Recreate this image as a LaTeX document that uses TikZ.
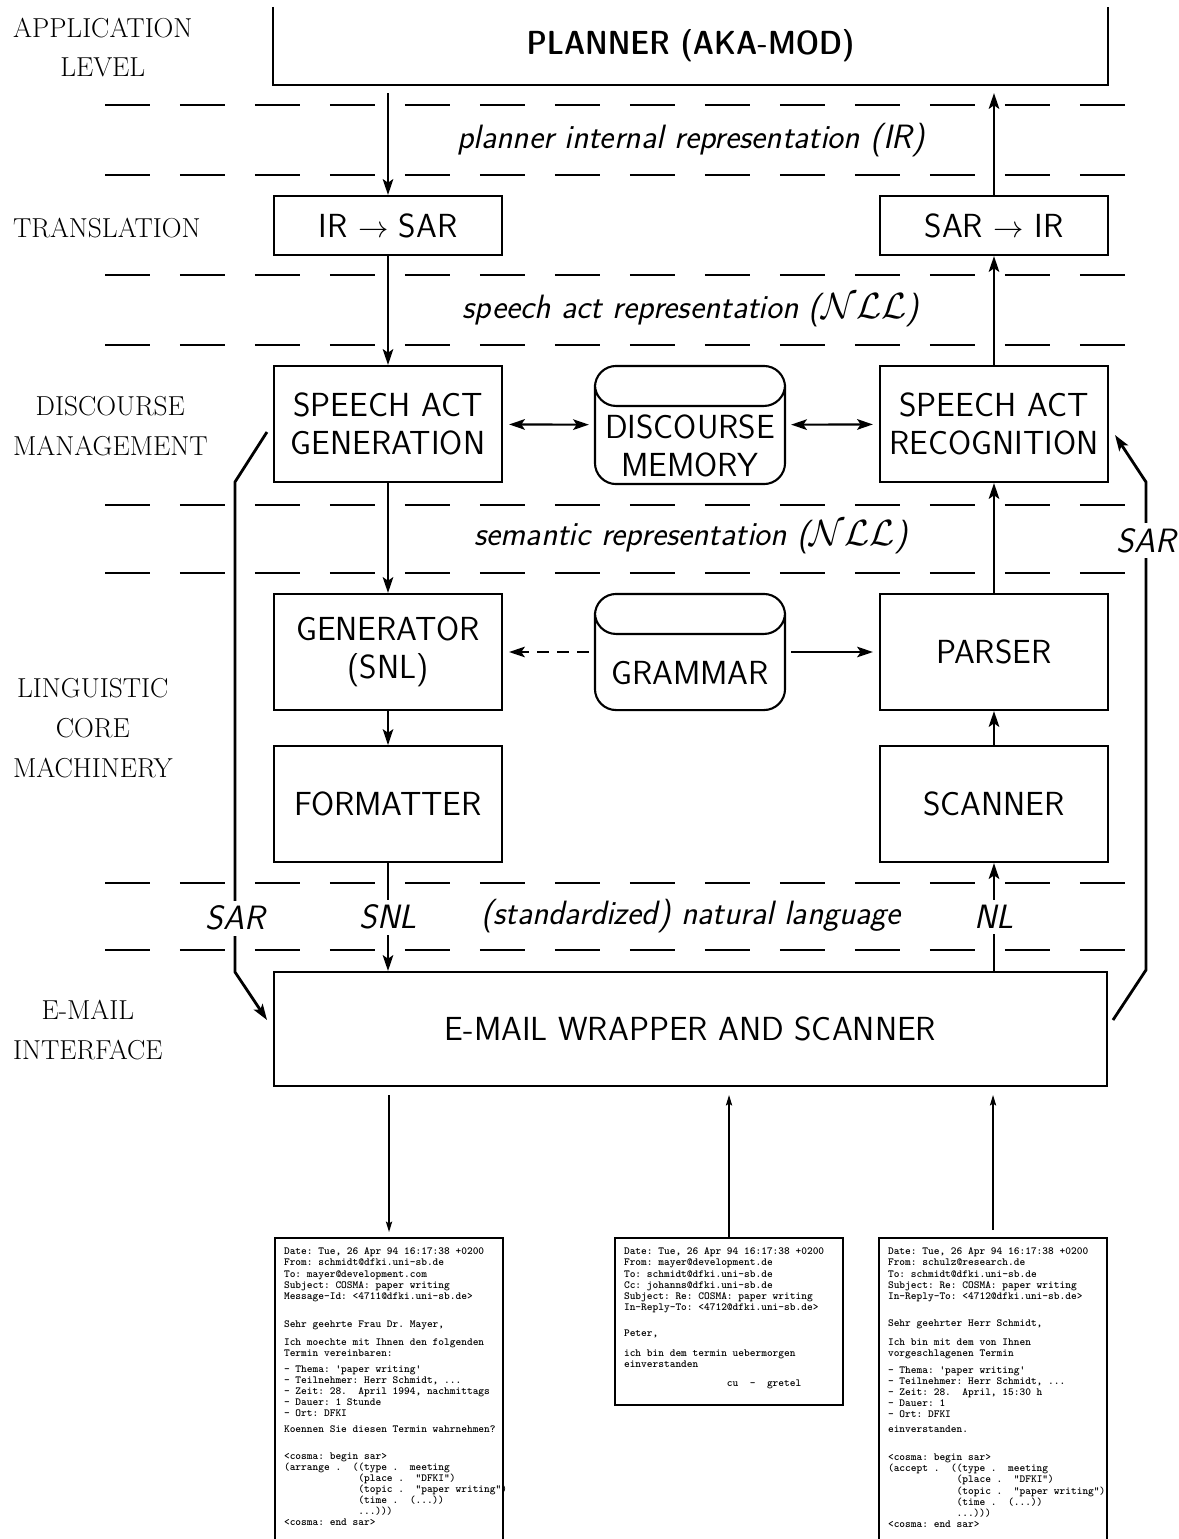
\documentclass[tikz,border=0pt]{standalone}
\usetikzlibrary{arrows.meta,positioning}

\newcommand{\mailtext}[2]{\makebox[4.2cm][l]{\parbox[t][#1][t]{6cm}{\frenchspacing#2}}}

\tikzset{
  >={Stealth[length=9pt,width=6pt,inset=2pt]},
  box/.style={draw, minimum width=4.56cm, minimum height=2.32cm, align=center,
    font=\sffamily\fontsize{19}{21.8}\selectfont},
  smallbox/.style={box, minimum height=1.18cm},
  store/.style={box, draw=none, minimum width=3.76cm},
  level/.style={anchor=west, inner xsep=0pt, align=center,
    font=\rmfamily\fontsize{15.6}{22.7}\selectfont},
  repr/.style={font=\sffamily\itshape\fontsize{19.2}{21.8}\selectfont},
  tag/.style={repr, fill=white, inner sep=3pt},
  layer/.style={line width=0.8pt, dash pattern=on 0.9cm off 0.6cm},
  letter/.style={draw, anchor=north west, inner xsep=0.18cm, inner ysep=0.2cm,
    font=\ttfamily\fontseries{b}\fontsize{6.2}{6.3}\selectfont},
  mailarrow/.style={-{Stealth[length=6pt,width=3.6pt,inset=1.2pt]}, line width=0.7pt}
}

\begin{document}
\begin{tikzpicture}[x=0.02cm, y=-0.02cm, line width=1.2pt]
\useasboundingbox (0,0) rectangle (1179,1539);

\foreach \y in {105,175,275,345,505,573,883,950}
  \draw[layer] (105,\y) -- (1125,\y);

\node[level] (applevel) at (12,47.5) {APPLICATION\\LEVEL};
\node[level] (translevel) at (12,228) {TRANSLATION};
\node[level] (disclevel) at (12,426) {DISCOURSE\\MANAGEMENT};
\node[level] (linglevel) at (12,728) {LINGUISTIC\\CORE\\MACHINERY};
\node[level] (maillevel) at (12,1030) {E-MAIL\\INTERFACE};

\node[box, draw=none, minimum width=16.66cm, minimum height=1.52cm,
  font=\sffamily\fontseries{sbc}\fontsize{19}{21.8}\selectfont] (planner) at (690.5,46) {PLANNER (AKA-MOD)};
\draw (planner.north west) -- (planner.south west) -- (planner.south east) -- (planner.north east);

\node[smallbox] (irsar) at (388,225.5) {IR $\rightarrow$ SAR};
\node[smallbox, right=7.52cm of irsar] (sarir) {SAR $\rightarrow$ IR};
\node[box] (sag) at (388,424) {SPEECH ACT\\GENERATION};
\node[box, right=7.52cm of sag] (sar) {SPEECH ACT\\RECOGNITION};
\node[store] (dm) at (690,425) {\strut\\DISCOURSE\\MEMORY};
\node[box] (gen) at (388,652) {GENERATOR\\(SNL)};
\node[box, right=7.52cm of gen] (parser) {PARSER};
\node[store, minimum height=2.28cm] (gram) at (690,652) {\strut\\GRAMMAR};
\node[box, below=0.68cm of gen] (fmt) {FORMATTER};
\node[box, right=7.52cm of fmt] (scanner) {SCANNER};
\node[box, minimum width=16.66cm, minimum height=2.28cm] (mail) at (690.5,1029) {E-MAIL WRAPPER AND SCANNER};

\foreach \s in {dm,gram}
  \draw[rounded corners=12pt] (\s.north west) rectangle (\s.south east)
    (\s.north west) rectangle ([yshift=-0.8cm]\s.north east);

\node[repr] (irrep) at (691,140) {planner internal representation (IR)};
\node[repr] (sarep) at (691,310) {speech act representation ($\mathcal{NLL}$)};
\node[repr] (semrep) at (691,537) {semantic representation ($\mathcal{NLL}$)};
\node[repr] (nlrep) at (691,916) {(standardized) natural language};

\draw[->, shorten <=0.16cm] (planner.south -| irsar) -- (irsar);
\draw[->, shorten >=0.16cm] (sarir) -- (planner.south -| sarir);
\draw[->] (irsar) -- (sag);
\draw[->] (sar) -- (sarir);
\draw[<->, shorten <=0.12cm, shorten >=0.12cm] (sag) -- (dm);
\draw[<->, shorten <=0.12cm, shorten >=0.12cm] (dm) -- (sar);
\draw[->] (sag) -- (gen);
\draw[->] (parser) -- (sar);
\draw[->, dash pattern=on 0.24cm off 0.16cm, shorten <=0.12cm, shorten >=0.12cm] (gram) -- (gen);
\draw[->, shorten <=0.12cm, shorten >=0.12cm] (gram) -- (parser);
\draw[->] (gen) -- (fmt);
\draw[->] (scanner) -- (parser);
\draw[->] (fmt) -- node[tag] {SNL} (fmt |- mail.north);
\draw[->] (mail.north -| scanner) -- node[tag] {NL} (scanner);

\draw[->, line width=1.6pt] ([shift={(-6,8)}]sag.west) -- ++(-32,50)
  -- node[tag, pos=0.89] {SAR} ++(0,490) -- ([shift={(-6,-9)}]mail.west);
\draw[->, line width=1.6pt] ([shift={(5,-9)}]mail.east) -- ++(33,-50)
  -- node[tag, pos=0.88] {SAR} ++(0,-488) -- ([shift={(6,11)}]sar.east);

\node[letter] (request) at (274,1237) {\mailtext{6.2cm}{%
Date: Tue, 26 Apr 94 16:17:38 +0200\\
From: schmidt@dfki.uni-sb.de\\
To: mayer@development.com\\
Subject: COSMA: paper writing\\
Message-Id: <4711@dfki.uni-sb.de>\\[9.6pt]
Sehr geehrte Frau Dr. Mayer,\\[3.9pt]
Ich moechte mit Ihnen den folgenden\\
Termin vereinbaren:\\[2.8pt]
- Thema: 'paper writing'\\
- Teilnehmer: Herr Schmidt, ...\\
- Zeit: 28.~~April 1994, nachmittags\\
- Dauer: 1 Stunde\\
- Ort: DFKI\\[2.8pt]
Koennen Sie diesen Termin wahrnehmen?\\[9pt]
<cosma: begin sar>\\
(arrange .~~((type .~~meeting\\
\phantom{(arrange .~~(}(place .~~"DFKI")\\
\phantom{(arrange .~~(}(topic .~~"paper writing")\\
\phantom{(arrange .~~(}(time .~~(...))\\
\phantom{(arrange .~~(}...)))\\
<cosma: end sar>}};

\node[letter] (answer) at (614,1237) {\mailtext{2.94cm}{%
Date: Tue, 26 Apr 94 16:17:38 +0200\\
From: mayer@development.de\\
To: schmidt@dfki.uni-sb.de\\
Cc: johanns@dfki.uni-sb.de\\
Subject: Re: COSMA: paper writing\\
In-Reply-To: <4712@dfki.uni-sb.de>\\[8.5pt]
Peter,\\[5pt]
ich bin dem termin uebermorgen\\
einverstanden\\[4.5pt]
\phantom{ich bin dem termin}cu~~-~~gretel}};

\node[letter] (reply) at (878,1237) {\mailtext{6.2cm}{%
Date: Tue, 26 Apr 94 16:17:38 +0200\\
From: schulz@research.de\\
To: schmidt@dfki.uni-sb.de\\
Subject: Re: COSMA: paper writing\\
In-Reply-To: <4712@dfki.uni-sb.de>\\[9pt]
Sehr geehrter Herr Schmidt,\\[5pt]
Ich bin mit dem von Ihnen\\
vorgeschlagenen Termin\\[3pt]
- Thema: 'paper writing'\\
- Teilnehmer: Herr Schmidt, ...\\
- Zeit: 28.~~April, 15:30 h\\
- Dauer: 1\\
- Ort: DFKI\\[2pt]
einverstanden.\\[10pt]
<cosma: begin sar>\\
(accept .~~((type .~~meeting\\
\phantom{(accept .~~(}(place .~~"DFKI")\\
\phantom{(accept .~~(}(topic .~~"paper writing")\\
\phantom{(accept .~~(}(time .~~(...))\\
\phantom{(accept .~~(}...)))\\
<cosma: end sar>}};

\draw[mailarrow, shorten <=0.16cm, shorten >=0.1cm] (mail.south -| request.north) -- (request.north);
\draw[mailarrow, shorten >=0.16cm] (answer.north) -- (answer.north |- mail.south);
\draw[mailarrow, shorten <=0.14cm, shorten >=0.16cm] (reply.north) -- (reply.north |- mail.south);
\end{tikzpicture}
\end{document}
